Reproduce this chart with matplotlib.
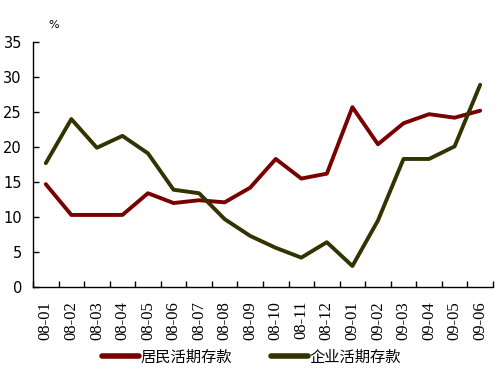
import numpy as np
import matplotlib.pyplot as plt
from matplotlib.ticker import FixedLocator

# 数据
months = ['08-01', '08-02', '08-03', '08-04', '08-05', '08-06', '08-07', '08-08', '08-09',
          '08-10', '08-11', '08-12', '09-01', '09-02', '09-03', '09-04', '09-05', '09-06']
resident = [14.7, 10.3, 10.3, 10.3, 13.4, 12.0, 12.4, 12.1, 14.2,
            18.3, 15.5, 16.2, 25.7, 20.4, 23.4, 24.7, 24.2, 25.2]
enterprise = [17.7, 24.0, 19.9, 21.6, 19.1, 13.9, 13.4, 9.7, 7.3,
              5.6, 4.2, 6.4, 3.0, 9.5, 18.3, 18.3, 20.1, 28.9]
yticks = [0, 5, 10, 15, 20, 25, 30, 35]

plt.rcParams['font.family'] = ['Liberation Serif', 'Noto Sans CJK SC']

fig = plt.figure(figsize=(5.03, 3.76), dpi=100)
ax = fig.add_axes([0.0656, 0.2367, 0.9144, 0.6513])

x = np.arange(len(months))
ax.plot(x, resident, color='#7a0000', lw=2.8, label='居民活期存款', solid_capstyle='round')
ax.plot(x, enterprise, color='#333300', lw=2.8, label='企业活期存款', solid_capstyle='round')

ax.set_xlim(-0.5, len(months) - 0.5)
ax.set_ylim(0, 35)
ax.set_yticks(yticks)
ax.set_xticks(x)
ax.set_xticklabels(months, rotation=90, fontsize=12, family='Liberation Serif')
ax.xaxis.set_minor_locator(FixedLocator(np.arange(len(months) + 1) - 0.5))
ax.tick_params(axis='x', which='major', length=0, pad=10)
ax.tick_params(axis='x', which='minor', direction='in', length=4.5, width=1)
ax.tick_params(axis='y', direction='in', length=4.5, width=1, pad=8)
for lbl in ax.get_yticklabels():
    lbl.set_family('DejaVu Sans')
    lbl.set_fontsize(10.5)

for s in ['top', 'right']:
    ax.spines[s].set_visible(False)
for s in ['left', 'bottom']:
    ax.spines[s].set_linewidth(1)
    ax.spines[s].set_color('black')

fig.text(0.097, 0.925, '%', fontsize=8, family='DejaVu Sans')

leg = fig.legend(loc='center', bbox_to_anchor=(0.5, 0.05), ncol=2, frameon=False,
                 prop={'family': 'Noto Sans CJK SC', 'size': 11}, handlelength=2.4,
                 handletextpad=0.1, columnspacing=2.6)
for h in leg.get_lines():
    h.set_linewidth(4)

fig.savefig('out.png', dpi=100)
